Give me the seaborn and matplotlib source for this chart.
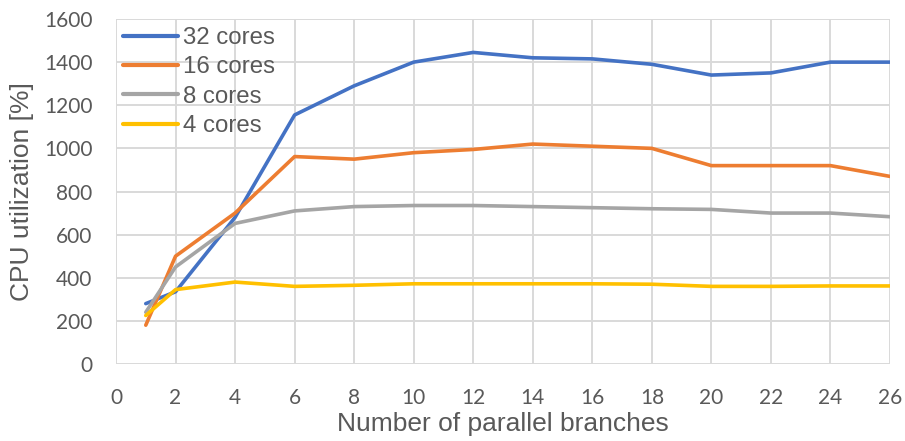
import matplotlib
matplotlib.use("Agg")
import matplotlib.pyplot as plt
import seaborn as sns
import pandas as pd

branches = [1, 2, 4, 6, 8, 10, 12, 14, 16, 18, 20, 22, 24, 26]
cores_32 = [280, 335, 680, 1155, 1290, 1400, 1445, 1420, 1415, 1390, 1340, 1350, 1400, 1400]
cores_16 = [180, 500, 700, 962, 950, 980, 995, 1020, 1010, 1000, 920, 920, 920, 870]
cores_8 = [240, 450, 652, 710, 730, 735, 735, 730, 725, 720, 717, 700, 700, 683]
cores_4 = [225, 345, 380, 360, 365, 372, 372, 372, 372, 370, 360, 360, 362, 362]
series_names = ["32 cores", "16 cores", "8 cores", "4 cores"]
x_ticks = list(range(0, 27, 2))
y_ticks = list(range(0, 1601, 200))

rows = []
for name, vals in zip(series_names, [cores_32, cores_16, cores_8, cores_4]):
    for b, v in zip(branches, vals):
        rows.append({"branches": b, "util": v, "series": name})
df = pd.DataFrame(rows)

sns.set_style("white")
plt.rcParams['font.family'] = ['Liberation Sans', 'DejaVu Sans']

fig = plt.figure(figsize=(9.05, 4.41), dpi=100)
ax = fig.add_axes([116/905, 1 - 364/441, (890-116)/905, (364-19)/441])

palette = {"32 cores": "#4472C4", "16 cores": "#ED7D31", "8 cores": "#A5A5A5", "4 cores": "#FFC000"}
sns.lineplot(data=df, x="branches", y="util", hue="series", hue_order=series_names,
             palette=palette, linewidth=2.6, ax=ax, zorder=3)

ax.set_xlim(0, 26)
ax.set_ylim(0, 1600)
ax.set_xticks(x_ticks)
ax.set_yticks(y_ticks)
ax.grid(True, color="#d9d9d9", linewidth=1.4, zorder=0)
ax.set_axisbelow(True)
for s in ax.spines.values():
    s.set_visible(False)
ax.tick_params(axis="both", length=0, labelcolor="#595959", pad=17)
for lbl in ax.get_xticklabels() + ax.get_yticklabels():
    lbl.set_fontfamily(['Lato', 'DejaVu Sans'])
    lbl.set_fontsize(15)
ax.set_xlabel("Number of parallel branches", fontsize=19, color="#595959", labelpad=3)
ax.set_ylabel("CPU utilization [%]", fontsize=19, color="#595959", labelpad=7)

leg = ax.legend(loc="upper left", bbox_to_anchor=(123/905, 1 - 27/441),
                bbox_transform=fig.transFigure, frameon=False, fontsize=17.3,
                handlelength=2.3, handletextpad=0.2, labelspacing=0.31,
                borderpad=0, borderaxespad=0, labelcolor="#595959")
for line in leg.get_lines():
    line.set_linewidth(3)

fig.savefig("out.png", dpi=100)
